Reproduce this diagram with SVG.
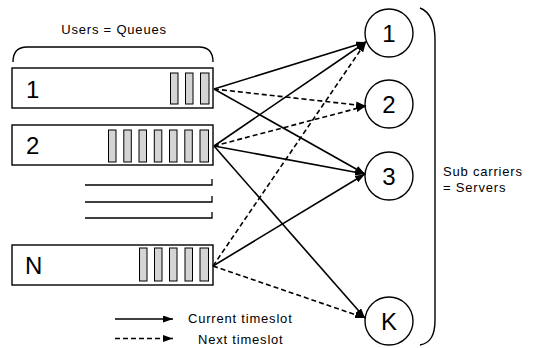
<svg xmlns="http://www.w3.org/2000/svg" width="537" height="348" viewBox="0 0 537 348">
  <style>
    .box { fill: #fff; stroke: #000; stroke-width: 1.4; }
    .cell { fill: #d4d4d4; stroke: #000; stroke-width: 1; }
    .num { font-family: "Liberation Sans", Arial, sans-serif; font-size: 24px; fill: #000; }
    .srv { font-family: "Liberation Sans", Arial, sans-serif; font-size: 24px; fill: #000; text-anchor: middle; }
    .lbl { font-family: "Liberation Sans", Arial, sans-serif; font-size: 13px; letter-spacing: 0.8px; fill: #000; }
    .node circle { fill: #fff; stroke: #000; stroke-width: 1.4; }
    .brace { fill: none; stroke: #000; stroke-width: 1.4; }
    .solid { fill: none; stroke: #000; stroke-width: 1.6; marker-end: url(#arr); }
    .dash { fill: none; stroke: #000; stroke-width: 1.6; stroke-dasharray: 5 3; marker-end: url(#arr); }
    .rule { fill: none; stroke: #000; stroke-width: 1.3; }
  </style>
  <defs>
    <marker id="arr" markerUnits="userSpaceOnUse" markerWidth="11" markerHeight="8" refX="10" refY="3.5" orient="auto">
      <path d="M0,0 L10,3.5 L0,7 Z" fill="#000"/>
    </marker>
  </defs>
  <rect width="537" height="348" fill="#fff"/>

  <!-- users brace and label -->
  <text class="lbl" x="114" y="34" text-anchor="middle">Users = Queues</text>
  <path class="brace" d="M13,62 C13,52 17,47 27,47 L199,47 C209,47 213,52 213,62"/>

  <!-- queue 1 -->
  <g id="queue1">
    <rect class="box" x="12" y="68" width="201" height="40"/>
    <text class="num" x="26" y="98">1</text>
    <rect class="cell" x="170.5" y="73" width="7.5" height="31"/>
    <rect class="cell" x="185.5" y="73" width="7.5" height="31"/>
    <rect class="cell" x="200.5" y="73" width="8.5" height="31"/>
  </g>

  <!-- queue 2 -->
  <g id="queue2">
    <rect class="box" x="12" y="125" width="201" height="40"/>
    <text class="num" x="26" y="154">2</text>
    <rect class="cell" x="108.5" y="130" width="7.5" height="32"/>
    <rect class="cell" x="123.8" y="130" width="7.5" height="32"/>
    <rect class="cell" x="139" y="130" width="7.5" height="32"/>
    <rect class="cell" x="154.3" y="130" width="7.5" height="32"/>
    <rect class="cell" x="169.5" y="130" width="7.5" height="32"/>
    <rect class="cell" x="184.8" y="130" width="7.5" height="32"/>
    <rect class="cell" x="200" y="130" width="8.5" height="32"/>
  </g>

  <!-- further queues, elided -->
  <g id="ellipsis">
    <path class="rule" d="M85,185 L212,185 L212,179"/>
    <path class="rule" d="M85,202 L212,202 L212,196"/>
    <path class="rule" d="M85,218 L212,218 L212,212"/>
  </g>

  <!-- queue N -->
  <g id="queueN">
    <rect class="box" x="12" y="245" width="201" height="40"/>
    <text class="num" x="25" y="274">N</text>
    <rect class="cell" x="139.5" y="248" width="7.5" height="33"/>
    <rect class="cell" x="154.5" y="248" width="7.5" height="33"/>
    <rect class="cell" x="169.5" y="248" width="7.5" height="33"/>
    <rect class="cell" x="185" y="248" width="7.5" height="33"/>
    <rect class="cell" x="200" y="248" width="8.5" height="33"/>
  </g>

  <!-- servers -->
  <g id="server1" class="node">
    <circle cx="389" cy="33" r="24"/>
    <text class="srv" x="389" y="42">1</text>
  </g>
  <g id="server2" class="node">
    <circle cx="389" cy="104" r="24"/>
    <text class="srv" x="389" y="113">2</text>
  </g>
  <g id="server3" class="node">
    <circle cx="389" cy="176" r="24"/>
    <text class="srv" x="389" y="185">3</text>
  </g>
  <g id="serverK" class="node">
    <circle cx="389" cy="321" r="24"/>
    <text class="srv" x="389" y="330">K</text>
  </g>

  <!-- servers brace and label -->
  <path class="brace" d="M420,8 C430,12 435,22 435,40 L435,320 C435,336 430,343 420,345"/>
  <text class="lbl" x="443" y="176">Sub carriers</text>
  <text class="lbl" x="443" y="192">= Servers</text>

  <!-- assignments -->
  <g id="connectors">
    <path class="solid" d="M214,89 L366,42"/>
    <path class="dash" d="M214,89 L366,106"/>
    <path class="solid" d="M214,89 L365,174"/>
    <path class="solid" d="M214,146 L366,42"/>
    <path class="dash" d="M214,146 L366,106"/>
    <path class="solid" d="M214,146 L365,174"/>
    <path class="solid" d="M214,146 L365,318"/>
    <path class="dash" d="M213,266 L366,42"/>
    <path class="solid" d="M213,266 L365,174"/>
    <path class="dash" d="M213,266 L365,318"/>
  </g>

  <!-- legend -->
  <g id="legend">
    <path class="solid" d="M115,319 L173,319"/>
    <text class="lbl" x="188" y="323">Current timeslot</text>
    <path class="dash" d="M115,338.5 L173,338.5"/>
    <text class="lbl" x="198" y="344">Next timeslot</text>
  </g>
</svg>
